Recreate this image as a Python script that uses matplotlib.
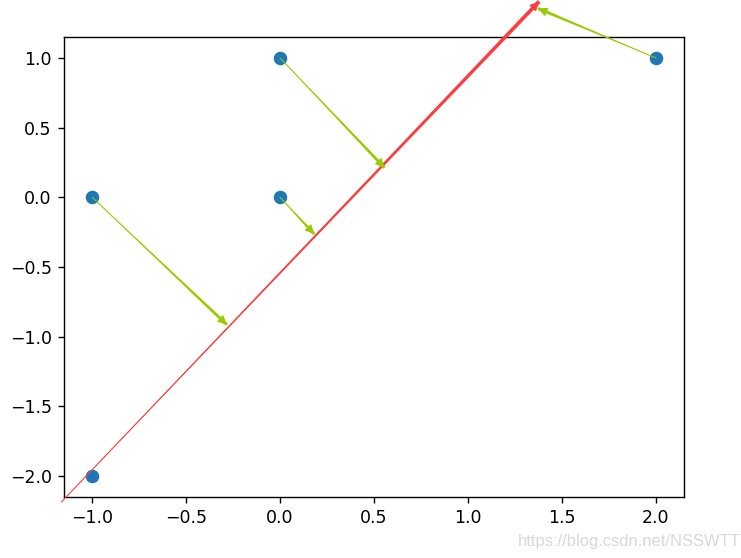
import matplotlib
matplotlib.use('Agg')
import matplotlib.pyplot as plt

# sample points
xs = [-1, -1, 0, 0, 2]
ys = [-2, 0, 0, 1, 1]

# principal axis arrow (tail -> head)
axis_tail = (-1.164, -2.186)
axis_head = (1.379, 1.405)

# projections of the points onto the axis (start point -> foot)
proj_from = [(2, 1), (0, 1), (0, 0), (-1, 0)]
proj_to = [(1.373, 1.355), (0.556, 0.212), (0.182, -0.264), (-0.283, -0.914)]

W, H = 741, 558
fig = plt.figure(figsize=(W / 125, H / 125), dpi=125)
ax = fig.add_axes([64 / W, (H - 497) / H, 620 / W, 460 / H])

ax.scatter(xs, ys, s=46)


def taper_arrow(start, end, color, width):
    # wedge body: thin at start, wide at end
    ax.annotate('', xy=start, xytext=end, annotation_clip=False,
                arrowprops=dict(arrowstyle='wedge,tail_width=%g,shrink_factor=0.5' % width,
                                color=color, lw=0, shrinkA=0, shrinkB=0))
    # filled head
    ax.annotate('', xy=end, xytext=start, annotation_clip=False,
                arrowprops=dict(arrowstyle='-|>,head_length=0.45,head_width=0.22',
                                color=color, lw=0.6, shrinkA=0, shrinkB=0))


taper_arrow(axis_tail, axis_head, '#ff3b3b', 0.22)
for p0, p1 in zip(proj_from, proj_to):
    taper_arrow(p0, p1, '#99cc00', 0.18)

ax.set_xlim(-1.15, 2.15)
ax.set_ylim(-2.15, 1.15)

fig.text(518 / W, 1 - 546 / H, 'https://blog.csdn.net/NSSWTT', fontsize=9.5,
         family='Liberation Sans', color='#d8d8d8', va='baseline')

fig.savefig('out.png', dpi=125)
